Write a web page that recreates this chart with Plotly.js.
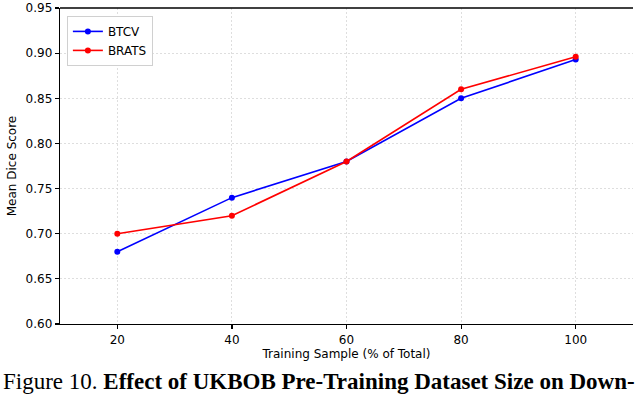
<!DOCTYPE html>
<html>
<head>
<meta charset="utf-8">
<script src="https://cdn.plot.ly/plotly-3.0.1.min.js"></script>
<style>
  body { margin: 0; padding: 0; background: #fff; }
  #chart { width: 640px; height: 398px; }
</style>
</head>
<body>
<div id="chart"></div>
<script>
// training sample sizes (% of total)
let samples = [20, 40, 60, 80, 100];
let btcv = [0.68, 0.74, 0.78, 0.85, 0.893];
let brats = [0.70, 0.72, 0.78, 0.86, 0.896];
let yTicks = [0.60, 0.65, 0.70, 0.75, 0.80, 0.85, 0.90, 0.95];

let data = [
    {
        x: samples, y: btcv, name: "BTCV", type: "scatter", mode: "lines+markers",
        line: { color: "#0000ff", width: 1.6 },
        marker: { color: "#0000ff", size: 6 }
    },
    {
        x: samples, y: brats, name: "BRATS", type: "scatter", mode: "lines+markers",
        line: { color: "#ff0000", width: 1.6 },
        marker: { color: "#ff0000", size: 6 }
    }
];

let osa = {
    showline: true, linecolor: "#000", linewidth: 1.3,
    ticks: "outside", ticklen: 4, tickwidth: 1.2, tickcolor: "#000",
    showgrid: true, gridcolor: "#d6d6d6", griddash: "2px,2px", gridwidth: 0.8,
    zeroline: false, ticklabeloverflow: "allow",
    tickfont: { family: "DejaVu Sans", size: 12, color: "#000" }
};

let layout = {
    width: 640, height: 398,
    margin: { l: 60, r: 7, t: 8, b: 74 },
    paper_bgcolor: "#fff", plot_bgcolor: "#fff",
    showlegend: true,
    legend: {
        x: 0.012, y: 0.975, xanchor: "left", yanchor: "top",
        bgcolor: "#fff", bordercolor: "#d0d0d0", borderwidth: 1,
        font: { family: "DejaVu Sans", size: 12, color: "#000" },
        itemwidth: 30, tracegroupgap: 2
    },
    xaxis: Object.assign({}, osa, {
        range: [10, 110], tickvals: samples,
        title: { text: "Training Sample (% of Total)", standoff: 4,
                 font: { family: "DejaVu Sans", size: 12, color: "#000" } }
    }),
    yaxis: Object.assign({}, osa, {
        range: [0.6, 0.9501], tickvals: yTicks, tickformat: ".2f",
        title: { text: "Mean Dice Score", standoff: 6,
                 font: { family: "DejaVu Sans", size: 12, color: "#000" } }
    }),
    shapes: [{ // zgornji rob
        type: "line", xref: "paper", yref: "paper", x0: 0, x1: 1, y0: 1, y1: 1,
        line: { color: "#000", width: 1.3 }
    }],
    annotations: [{
        xref: "paper", yref: "paper", x: -0.103, y: -0.183, xanchor: "left", yanchor: "middle",
        showarrow: false,
        text: "Figure 10. <b>Effect of UKBOB Pre-Training Dataset Size on Down-</b>",
        font: { family: "Liberation Serif", size: 23, color: "#000" }
    }]
};

Plotly.newPlot("chart", data, layout, { displayModeBar: false, staticPlot: true });
</script>
</body>
</html>
